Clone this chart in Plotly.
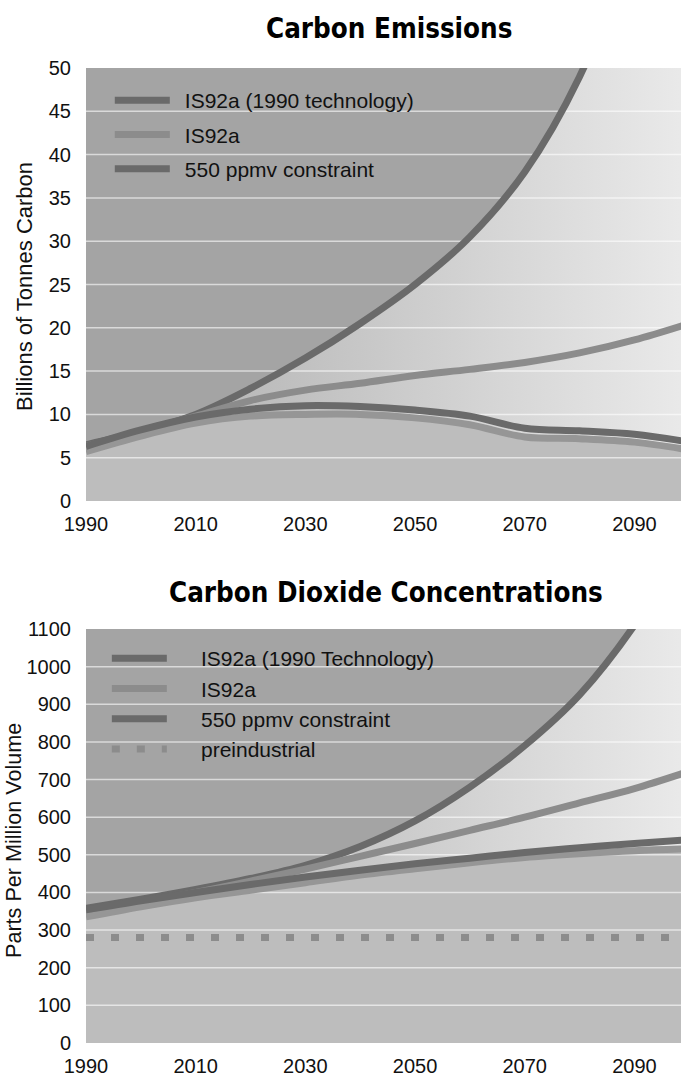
"""Carbon emissions and CO2 concentration scenarios (IS92a vs 550 ppmv)."""

import plotly.graph_objects as go

YEARS = [1990, 2000, 2010, 2020, 2030, 2040, 2050, 2060, 2070, 2080, 2090, 2100]
X_TICKS = [1990, 2010, 2030, 2050, 2070, 2090]
X_RANGE = [1990, 2098.5]

# carbon emissions, billions of tonnes carbon
EM_1990_TECH = [6.5, 8.0, 10.0, 13.0, 16.5, 20.5, 25.0, 30.5, 38.0, 49.0, 65.0, 85.0]
EM_IS92A = [6.3, 8.0, 9.8, 11.6, 12.8, 13.6, 14.5, 15.2, 16.0, 17.1, 18.6, 20.5]
EM_550 = [6.3, 8.2, 9.7, 10.6, 11.0, 10.9, 10.5, 9.8, 8.4, 8.1, 7.7, 6.8]
EM_550_LOW = [5.7, 7.5, 9.0, 9.8, 10.0, 10.0, 9.6, 8.8, 7.4, 7.2, 6.8, 5.9]
EM_TICKS = [0, 5, 10, 15, 20, 25, 30, 35, 40, 45, 50]

# CO2 concentrations, ppmv
CO2_1990_TECH = [358, 382, 408, 437, 472, 522, 590, 680, 790, 925, 1110, 1350]
CO2_IS92A = [348, 373, 400, 430, 462, 496, 530, 565, 600, 638, 676, 722]
CO2_550 = [354, 378, 400, 421, 441, 459, 476, 491, 506, 519, 530, 540]
CO2_550_LOW = [335, 362, 386, 406, 426, 446, 463, 479, 493, 503, 511, 516]
PREINDUSTRIAL = 280
CO2_TICKS = [0, 100, 200, 300, 400, 500, 600, 700, 800, 900, 1000, 1100]

DARK = "#6a6a6a"
MID = "#8c8c8c"
LIGHT = "#969696"
FONT = "Liberation Sans, Arial, sans-serif"
TITLE_FONT = "Liberation Sans Narrow, DejaVu Sans Condensed, Arial Narrow, sans-serif"

NB = "\u00a0"

fig = go.Figure()


def add_panel(xa, ya, legend, top, is92a, c550, c550_low, ticks, names, extra=None):
    # backgrounds: gradient under the steep curve, flat grey under the lowest one
    fig.add_trace(go.Scatter(
        x=YEARS, y=top, mode="lines", line=dict(width=0, shape="spline"),
        fill="tozeroy",
        fillgradient=dict(type="horizontal", colorscale=[[0, "#aaaaaa"], [1, "#eaeaea"]]),
        xaxis=xa, yaxis=ya, hoverinfo="skip", showlegend=False))
    fig.add_trace(go.Scatter(
        x=YEARS, y=c550_low, mode="lines", line=dict(width=0, shape="spline"),
        fill="tozeroy", fillcolor="#bdbdbd",
        xaxis=xa, yaxis=ya, hoverinfo="skip", showlegend=False))
    # white grid lines on top of the fills
    gx, gy = [], []
    for t in ticks[1:-1]:
        gx += [X_RANGE[0], X_RANGE[1], None]
        gy += [t, t, None]
    fig.add_trace(go.Scatter(
        x=gx, y=gy, mode="lines", line=dict(color="rgba(255,255,255,0.6)", width=1.5),
        xaxis=xa, yaxis=ya, hoverinfo="skip", showlegend=False))

    if extra is not None:
        fig.add_trace(go.Scatter(
            x=YEARS, y=[extra] * len(YEARS), mode="lines", name=names[3],
            line=dict(color=MID, width=7, dash="8px,17px"),
            xaxis=xa, yaxis=ya, legend=legend, legendrank=10))

    series = [
        (top, DARK, names[0], True),
        (is92a, MID, names[1], True),
        (c550_low, LIGHT, "", False),
        (c550, DARK, names[2], True),
    ]
    for i, (vals, color, name, show) in enumerate(series):
        fig.add_trace(go.Scatter(
            x=YEARS, y=vals, mode="lines", name=name,
            line=dict(color=color, width=7, shape="spline"),
            xaxis=xa, yaxis=ya, legend=legend, showlegend=show,
            legendgroup=f"{legend}{i}", legendrank=i + 1))


add_panel("x", "y", "legend", EM_1990_TECH, EM_IS92A, EM_550, EM_550_LOW, EM_TICKS,
          [NB + "\u2009" + s for s in ["IS92a (1990 technology)", "IS92a", "550 ppmv constraint"]])
add_panel("x2", "y2", "legend2", CO2_1990_TECH, CO2_IS92A, CO2_550, CO2_550_LOW, CO2_TICKS,
          [NB * 5 + s for s in ["IS92a (1990 Technology)", "IS92a", "550 ppmv constraint", "preindustrial"]],
          extra=PREINDUSTRIAL)

H = 1078.0
xaxis_common = dict(
    range=X_RANGE, tickvals=X_TICKS, showgrid=False, zeroline=False, showline=False,
    ticks="outside", ticklen=5, tickcolor="rgba(0,0,0,0)", automargin=False,
    tickfont=dict(size=20),
)
yaxis_common = dict(
    showgrid=False, zeroline=False, showline=False, ticks="outside", ticklen=10,
    tickcolor="rgba(0,0,0,0)", automargin=False, tickfont=dict(size=20),
)

fig.update_layout(
    width=681, height=1078,
    margin=dict(l=86, r=0, t=0, b=0),
    paper_bgcolor="white", plot_bgcolor="#a4a4a4",
    font=dict(family=FONT, color="#111111"),
    xaxis=dict(xaxis_common, anchor="y"),
    yaxis=dict(yaxis_common, range=[0, 50], tickvals=EM_TICKS,
               domain=[1 - 501 / H, 1 - 68 / H]),
    xaxis2=dict(xaxis_common, anchor="y2"),
    yaxis2=dict(yaxis_common, range=[0, 1100], tickvals=CO2_TICKS,
                domain=[1 - 1043 / H, 1 - 629 / H]),
    legend=dict(x=0.04, y=1 - 80 / H, xanchor="left", yanchor="top",
                bgcolor="rgba(0,0,0,0)", font=dict(size=21), itemwidth=55,
                tracegroupgap=4),
    legend2=dict(x=0.035, y=1 - 638 / H, xanchor="left", yanchor="top",
                 bgcolor="rgba(0,0,0,0)", font=dict(size=21), itemwidth=55,
                 tracegroupgap=0),
    annotations=[
        dict(text="<b>Carbon Emissions</b>", xref="paper", yref="paper",
             x=0.51, y=1 - 28 / H, xanchor="center", yanchor="middle", showarrow=False,
             font=dict(family=TITLE_FONT, size=27.5, color="black")),
        dict(text="<b>Carbon Dioxide Concentrations</b>", xref="paper", yref="paper",
             x=0.505, y=1 - 592 / H, xanchor="center", yanchor="middle", showarrow=False,
             font=dict(family=TITLE_FONT, size=27.5, color="black")),
        dict(text="Billions of Tonnes Carbon", xref="paper", yref="paper",
             x=0, y=1 - 287 / H, xshift=-61, textangle=-90, showarrow=False,
             xanchor="center", yanchor="middle", font=dict(size=22)),
        dict(text="Parts Per Million Volume", xref="paper", yref="paper",
             x=0, y=1 - 841 / H, xshift=-73, textangle=-90, showarrow=False,
             xanchor="center", yanchor="middle", font=dict(size=21.6)),
    ],
)

# the page body has a default 8px margin; drop it so the figure fills the window
fig.write_html("out.html", config={"displayModeBar": False},
               post_script="document.body.style.margin = '0';")
